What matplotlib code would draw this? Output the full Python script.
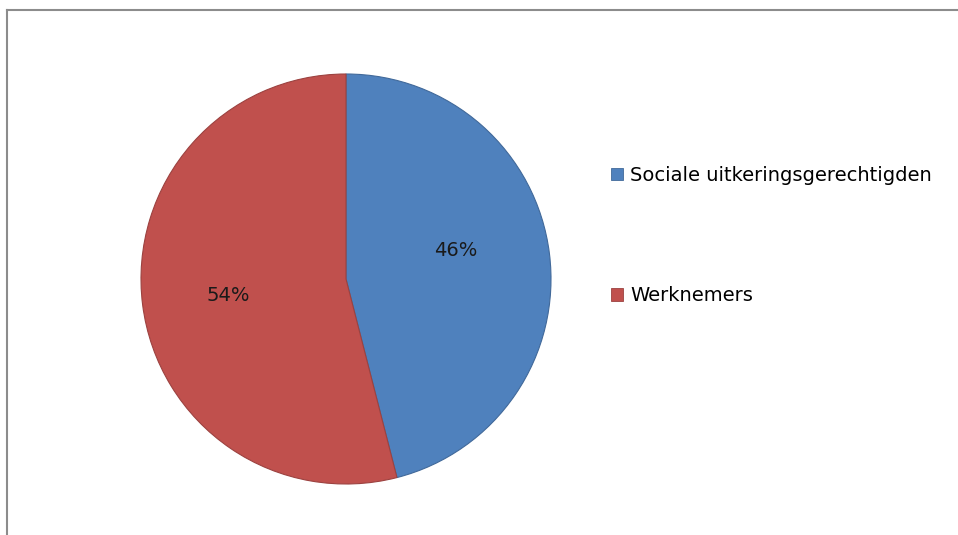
import matplotlib
matplotlib.use("Agg")
import matplotlib.pyplot as plt
from matplotlib.lines import Line2D
from matplotlib.patches import Patch

# data
labels = ["Sociale uitkeringsgerechtigden", "Werknemers"]
shares = [46, 54]
colors = ["#4F81BD", "#C0504D"]
edges = ["#41699A", "#9C4240"]

W, H = 958, 535
fig = plt.figure(figsize=(W / 100, H / 100), dpi=100)
fig.patch.set_facecolor("white")

# pie axes: centre (346, 279) px from top, radius 205 px
cx, cy, r = 346, H - 279, 205
ax = fig.add_axes([(cx - r) / W, (cy - r) / H, 2 * r / W, 2 * r / H])
wedges, texts, autotexts = ax.pie(
    shares, colors=colors, startangle=90, counterclock=False,
    autopct=lambda p: f"{p:.0f}%", pctdistance=0.57,
    wedgeprops=dict(linewidth=0.8),
    textprops=dict(fontsize=14, color="#1a1a1a"),
)
for w, ec in zip(wedges, edges):
    w.set_edgecolor(ec)
# Excel-style label placement (slightly off the wedge bisector)
autotexts[0].set_position((0.535, 0.14))
autotexts[1].set_position((-0.575, -0.08))
ax.set_xlim(-1, 1)
ax.set_ylim(-1, 1)
ax.set_aspect("equal")
ax.axis("off")

handles = [Patch(facecolor=c, edgecolor=e, linewidth=0.6) for c, e in zip(colors, edges)]
fig.legend(handles, labels, loc="upper left",
           bbox_to_anchor=(611 / W, 1 - 166 / H),
           frameon=False, fontsize=14, labelspacing=5.2,
           handlelength=0.62, handleheight=0.62, handletextpad=0.38,
           borderpad=0, borderaxespad=0)

# chart frame (only top and left edges visible)
fig.add_artist(Line2D([7 / W, 7 / W], [0, 1 - 9.5 / H], transform=fig.transFigure,
                      color="#8c8c8c", linewidth=1.5))
fig.add_artist(Line2D([7 / W, 1], [1 - 9.5 / H, 1 - 9.5 / H], transform=fig.transFigure,
                      color="#8c8c8c", linewidth=1.5))

fig.savefig("out.png", dpi=100)
